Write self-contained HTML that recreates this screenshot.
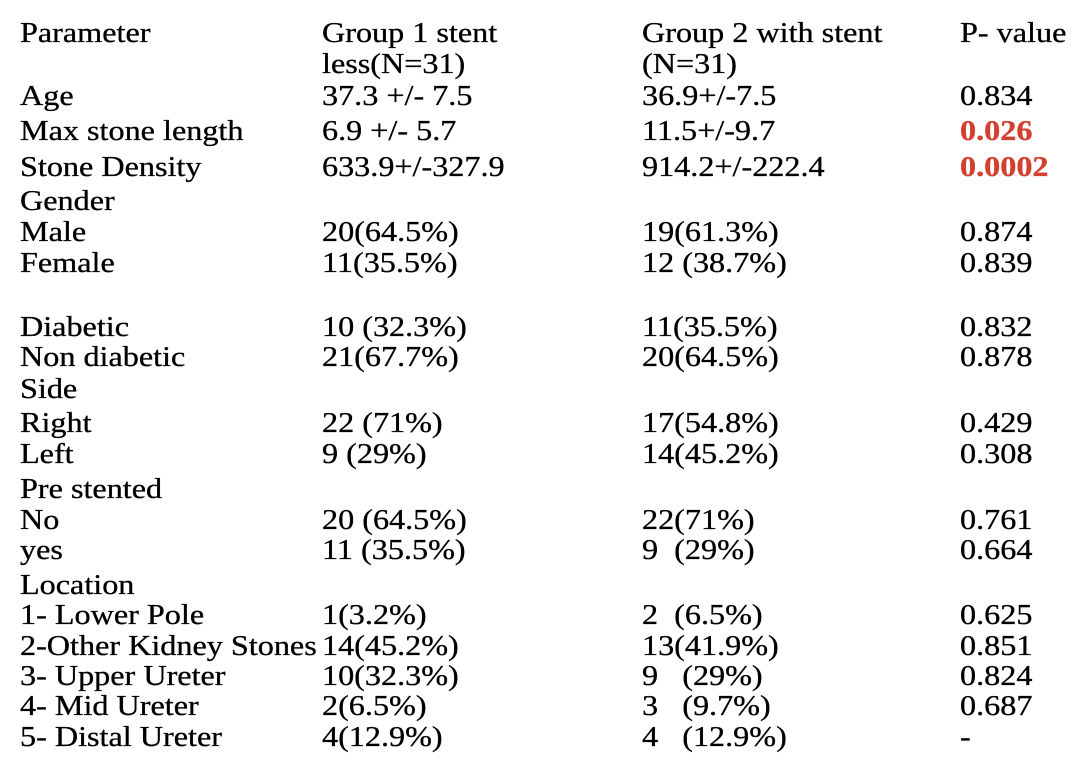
<!DOCTYPE html>
<html><head><style>
html,body{margin:0;padding:0;background:#fff;}
svg{display:block}
text{font-family:"Liberation Serif","Times New Roman",serif;font-size:28px;fill:#000;stroke:#000;stroke-width:0.3px;white-space:pre;}
.r{fill:#d2402f;stroke:#d2402f;font-weight:bold;}
</style></head><body>
<svg width="1080" height="760" xmlns="http://www.w3.org/2000/svg" xml:space="preserve">
<g>
<text transform="translate(20,42) scale(1.15,1)">Parameter</text>
<text transform="translate(322,42) scale(1.15,1)">Group 1 stent</text>
<text transform="translate(322,73) scale(1.15,1)">less(N=31)</text>
<text transform="translate(642,42) scale(1.15,1)">Group 2 with stent</text>
<text transform="translate(642,73) scale(1.15,1)">(N=31)</text>
<text transform="translate(960,42) scale(1.15,1)">P- value</text>

<text transform="translate(20,105) scale(1.15,1)">Age</text>
<text transform="translate(322,105) scale(1.15,1)">37.3 +/- 7.5</text>
<text transform="translate(642,105) scale(1.15,1)">36.9+/-7.5</text>
<text transform="translate(960,105) scale(1.15,1)">0.834</text>

<text transform="translate(20,140) scale(1.15,1)">Max stone length</text>
<text transform="translate(322,140) scale(1.15,1)">6.9 +/- 5.7</text>
<text transform="translate(642,140) scale(1.15,1)">11.5+/-9.7</text>
<text class="r" transform="translate(960,140) scale(1.15,1)">0.026</text>

<text transform="translate(20,176) scale(1.15,1)">Stone Density</text>
<text transform="translate(322,176) scale(1.15,1)">633.9+/-327.9</text>
<text transform="translate(642,176) scale(1.15,1)">914.2+/-222.4</text>
<text class="r" transform="translate(960,176) scale(1.15,1)">0.0002</text>

<text transform="translate(20,210) scale(1.15,1)">Gender</text>
<text transform="translate(20,241) scale(1.15,1)">Male</text>
<text transform="translate(322,241) scale(1.15,1)">20(64.5%)</text>
<text transform="translate(642,241) scale(1.15,1)">19(61.3%)</text>
<text transform="translate(960,241) scale(1.15,1)">0.874</text>
<text transform="translate(20,272) scale(1.15,1)">Female</text>
<text transform="translate(322,272) scale(1.15,1)">11(35.5%)</text>
<text transform="translate(642,272) scale(1.15,1)">12 (38.7%)</text>
<text transform="translate(960,272) scale(1.15,1)">0.839</text>

<text transform="translate(20,336) scale(1.15,1)">Diabetic</text>
<text transform="translate(322,336) scale(1.15,1)">10 (32.3%)</text>
<text transform="translate(642,336) scale(1.15,1)">11(35.5%)</text>
<text transform="translate(960,336) scale(1.15,1)">0.832</text>
<text transform="translate(20,366) scale(1.15,1)">Non diabetic</text>
<text transform="translate(322,366) scale(1.15,1)">21(67.7%)</text>
<text transform="translate(642,366) scale(1.15,1)">20(64.5%)</text>
<text transform="translate(960,366) scale(1.15,1)">0.878</text>

<text transform="translate(20,398) scale(1.15,1)">Side</text>
<text transform="translate(20,432) scale(1.15,1)">Right</text>
<text transform="translate(322,432) scale(1.15,1)">22 (71%)</text>
<text transform="translate(642,432) scale(1.15,1)">17(54.8%)</text>
<text transform="translate(960,432) scale(1.15,1)">0.429</text>
<text transform="translate(20,463) scale(1.15,1)">Left</text>
<text transform="translate(322,463) scale(1.15,1)">9 (29%)</text>
<text transform="translate(642,463) scale(1.15,1)">14(45.2%)</text>
<text transform="translate(960,463) scale(1.15,1)">0.308</text>

<text transform="translate(20,498) scale(1.15,1)">Pre stented</text>
<text transform="translate(20,529) scale(1.15,1)">No</text>
<text transform="translate(322,529) scale(1.15,1)">20 (64.5%)</text>
<text transform="translate(642,529) scale(1.15,1)">22(71%)</text>
<text transform="translate(960,529) scale(1.15,1)">0.761</text>
<text transform="translate(20,559) scale(1.15,1)">yes</text>
<text transform="translate(322,559) scale(1.15,1)">11 (35.5%)</text>
<text transform="translate(642,559) scale(1.15,1)">9  (29%)</text>
<text transform="translate(960,559) scale(1.15,1)">0.664</text>

<text transform="translate(20,594) scale(1.15,1)">Location</text>
<text transform="translate(20,624) scale(1.15,1)">1- Lower Pole</text>
<text transform="translate(322,624) scale(1.15,1)">1(3.2%)</text>
<text transform="translate(642,624) scale(1.15,1)">2  (6.5%)</text>
<text transform="translate(960,624) scale(1.15,1)">0.625</text>
<text transform="translate(20,655) scale(1.15,1)">2-Other Kidney Stones</text>
<text transform="translate(322,655) scale(1.15,1)">14(45.2%)</text>
<text transform="translate(642,655) scale(1.15,1)">13(41.9%)</text>
<text transform="translate(960,655) scale(1.15,1)">0.851</text>
<text transform="translate(20,685) scale(1.15,1)">3- Upper Ureter</text>
<text transform="translate(322,685) scale(1.15,1)">10(32.3%)</text>
<text transform="translate(642,685) scale(1.15,1)">9   (29%)</text>
<text transform="translate(960,685) scale(1.15,1)">0.824</text>
<text transform="translate(20,715) scale(1.15,1)">4- Mid Ureter</text>
<text transform="translate(322,715) scale(1.15,1)">2(6.5%)</text>
<text transform="translate(642,715) scale(1.15,1)">3   (9.7%)</text>
<text transform="translate(960,715) scale(1.15,1)">0.687</text>
<text transform="translate(20,746) scale(1.15,1)">5- Distal Ureter</text>
<text transform="translate(322,746) scale(1.15,1)">4(12.9%)</text>
<text transform="translate(642,746) scale(1.15,1)">4   (12.9%)</text>
<text transform="translate(960,746) scale(1.15,1)">-</text>
</g>
</svg>
</body></html>
